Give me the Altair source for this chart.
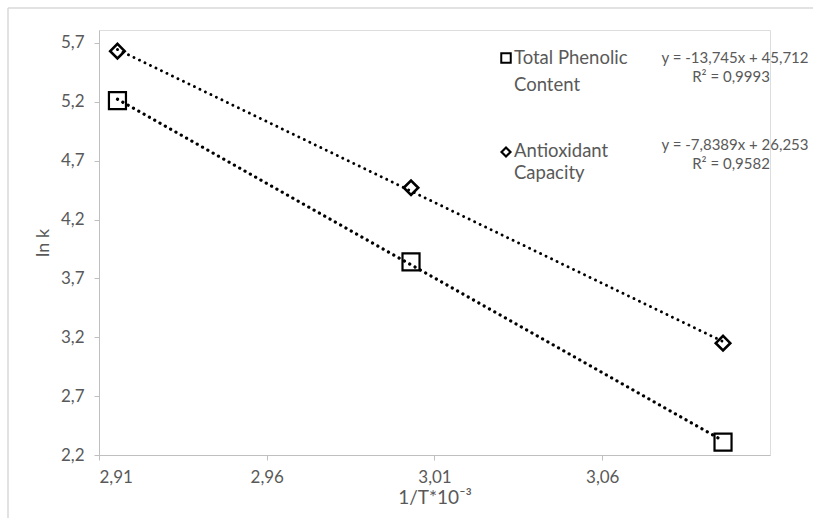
import altair as alt
import pandas as pd

# ---- data ----
inv_T = [2.9155, 3.0030, 3.0960]          # 1/T * 10^-3
tpc_lnk = [5.21, 3.84, 2.31]              # Total Phenolic Content (squares)
aox_lnk = [5.63, 4.47, 3.15]              # Antioxidant Capacity (diamonds)
x_ticks = [2.91, 2.96, 3.01, 3.06]
y_ticks = [2.2, 2.7, 3.2, 3.7, 4.2, 4.7, 5.2, 5.7]

eq_tpc = ["y = -13,745x + 45,712", "R² = 0,9993"]
eq_aox = ["y = -7,8389x + 26,253", "R² = 0,9582"]

df_tpc = pd.DataFrame({"x": inv_T, "y": tpc_lnk})
df_aox = pd.DataFrame({"x": inv_T, "y": aox_lnk})

FONT = "Lato"
GRAY = "#595959"
AX = "#bfbfbf"

xscale = alt.Scale(domain=[2.91, 3.11], nice=False, zero=False)
yscale = alt.Scale(domain=[2.2, 5.81], nice=False, zero=False)

xaxis = alt.Axis(values=x_ticks, title="1/T*10⁻³",
                 labelExpr="replace(format(datum.value, '.2f'), '.', ',')",
                 grid=False, domainColor=AX, tickColor=AX, tickSize=5,
                 labelColor=GRAY, labelFont=FONT, labelFontSize=17,
                 labelPadding=9, titleFont=FONT, titleFontSize=19,
                 titleColor=GRAY, titleFontWeight="normal", titlePadding=3)
yaxis = alt.Axis(values=y_ticks, title="ln k",
                 labelExpr="replace(format(datum.value, '.1f'), '.', ',')",
                 grid=False, domainColor=AX, tickColor=AX, tickSize=5,
                 labelColor=GRAY, labelFont=FONT, labelFontSize=17,
                 labelPadding=10, titleFont=FONT, titleFontSize=18,
                 titleColor=GRAY, titleFontWeight="normal", titlePadding=8)

X = alt.X("x:Q", scale=xscale, axis=xaxis)
Y = alt.Y("y:Q", scale=yscale, axis=yaxis)

trend_tpc = alt.Chart(df_tpc).transform_regression("x", "y").mark_line(
    color="black", strokeWidth=3.2, strokeDash=[0.1, 6], strokeCap="round"
).encode(x=X, y=Y)
trend_aox = alt.Chart(df_aox).transform_regression("x", "y").mark_line(
    color="black", strokeWidth=2.8, strokeDash=[0.1, 6], strokeCap="round"
).encode(x=X, y=Y)

pts_tpc = alt.Chart(df_tpc).mark_point(
    shape="square", size=290, filled=False, color="black", strokeWidth=2.2, opacity=1
).encode(x=X, y=Y)
pts_aox = alt.Chart(df_aox).mark_point(
    shape="diamond", size=210, filled=False, color="black", strokeWidth=2.6, opacity=1
).encode(x=X, y=Y)

# ---- legend & equations (annotation text) ----
def txt(s, x, y, size=18.5, align="left", color=GRAY):
    return alt.Chart(pd.DataFrame({"t": [s]})).mark_text(
        font=FONT, fontSize=size, color=color, align=align, baseline="middle"
    ).encode(text="t:N", x=alt.value(x), y=alt.value(y))

leg_sq = alt.Chart(pd.DataFrame({"a": [0]})).mark_point(
    shape="square", size=90, filled=False, color="black", strokeWidth=2, opacity=1
).encode(x=alt.value(407), y=alt.value(28))
leg_di = alt.Chart(pd.DataFrame({"a": [0]})).mark_point(
    shape="diamond", size=80, filled=False, color="black", strokeWidth=2.2, opacity=1
).encode(x=alt.value(407), y=alt.value(122))

labels = [
    txt("Total Phenolic", 415, 28), txt("Content", 415, 55),
    txt("Antioxidant", 415, 121), txt("Capacity", 415, 143),
    txt(eq_tpc[0], 636, 28, 15, "center"), txt(eq_tpc[1], 632, 47, 15, "center"),
    txt(eq_aox[0], 636, 115, 15, "center"), txt(eq_aox[1], 632, 134, 15, "center"),
]

# chart-area border (partly cropped in the reference: left and top edges)
border_top = alt.Chart(pd.DataFrame({"a": [0]})).mark_rule(color="#d9d9d9", strokeWidth=1.5).encode(
    x=alt.value(-91), x2=alt.value(720), y=alt.value(-22))
border_left = alt.Chart(pd.DataFrame({"a": [0]})).mark_rule(color="#d9d9d9", strokeWidth=1.5).encode(
    x=alt.value(-91), y=alt.value(-22), y2=alt.value(495))

chart = alt.layer(border_top, border_left, trend_aox, trend_tpc, pts_aox, pts_tpc,
                  leg_sq, leg_di, *labels).properties(
    width=671, height=425,
    autosize=alt.AutoSizeParams(type="none"),
    padding={"left": 99, "top": 30, "right": 43, "bottom": 63},
).configure_view(stroke=None).configure(background="white")

chart.save("out.html", embed_options={"renderer": "svg", "actions": False})
